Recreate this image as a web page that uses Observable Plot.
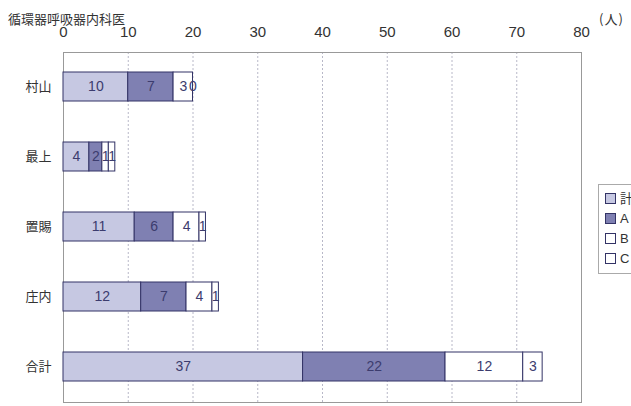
<!DOCTYPE html>
<html><head><meta charset="utf-8">
<script src="https://cdn.jsdelivr.net/npm/d3@7"></script>
<script src="https://cdn.jsdelivr.net/npm/@observablehq/plot@0.6"></script>
<style>
html,body{margin:0;padding:0;background:#fff;overflow:hidden;width:631px;height:406px;}
#wrap{position:relative;width:631px;height:406px;font-family:"Noto Sans CJK JP",sans-serif;}
#title{position:absolute;left:8px;top:9px;font-size:13px;color:#333;}
#unit{position:absolute;left:599px;top:9px;font-size:13px;color:#333;white-space:nowrap;letter-spacing:1px;}
#legend{position:absolute;left:598px;top:184px;border:1px solid #aaa;border-right:none;padding:4px 6px;font-size:13px;color:#333;line-height:20px;white-space:nowrap;font-family:"Liberation Sans","Noto Sans CJK JP",sans-serif;}
#legend span.sw{display:inline-block;width:9px;height:9px;border:1px solid #333366;margin-right:4px;vertical-align:-1px;}
#chart{position:absolute;left:0;top:0;}
</style></head>
<body><div id="wrap"><div id="chart"></div>
<div id="title">循環器呼吸器内科医</div>
<div id="unit">(人)</div>
<div id="legend"></div>
</div>
<script>
const regions = ["村山", "最上", "置賜", "庄内", "合計"];
const seriesNames = ["計", "A", "B", "C"];
const valuesKei = [10, 4, 11, 12, 37];
const valuesA = [7, 2, 6, 7, 22];
const valuesB = [3, 1, 4, 4, 12];
const valuesC = [0, 1, 1, 1, 3];
const xTicks = [0, 10, 20, 30, 40, 50, 60, 70, 80];
const colors = ["#c6c8e2", "#7f80b2", "#ffffff", "#ffffff"];

const seriesValues = [valuesKei, valuesA, valuesB, valuesC];
const data = [];
regions.forEach((r, i) => seriesNames.forEach((s, j) => data.push({region: r, series: s, value: seriesValues[j][i]})));

const chart = Plot.plot({
  width: 631, height: 406,
  marginLeft: 63, marginRight: 50, marginTop: 52, marginBottom: 4,
  style: {fontFamily: "'Noto Sans CJK JP', sans-serif", background: "transparent"},
  x: {domain: [0, 80], label: null},
  y: {domain: regions, paddingInner: 0.58, paddingOuter: 0.29, label: null},
  color: {domain: seriesNames, range: colors},
  marks: [
    Plot.gridX(xTicks, {stroke: "#b8b8c8", strokeOpacity: 1, strokeDasharray: "2,2"}),
    Plot.frame({stroke: "#999"}),
    Plot.barX(data, Plot.stackX({x: "value", y: "region", fill: "series", order: seriesNames, stroke: "#333366", strokeWidth: 1})),
    Plot.text(data, Plot.stackX({x: "value", y: "region", z: "series", order: seriesNames, text: d => String(d.value),
      fill: "#3c3c6e", fontSize: 14, fontFamily: "'Liberation Sans Narrow', 'Liberation Sans', sans-serif"})),
    Plot.axisX(xTicks, {anchor: "top", tickSize: 0, tickPadding: 16, fontSize: 15, label: null,
      fontFamily: "'Liberation Sans Narrow', 'Liberation Sans', sans-serif", fill: "#333"}),
    Plot.axisY({tickSize: 0, tickPadding: 12, fontSize: 13, label: null, fill: "#333"})
  ]
});
document.getElementById("chart").appendChild(chart);

const leg = document.getElementById("legend");
seriesNames.forEach((s, j) => {
  const row = document.createElement("div");
  const sw = document.createElement("span");
  sw.className = "sw"; sw.style.background = colors[j];
  row.appendChild(sw);
  row.appendChild(document.createTextNode(s));
  leg.appendChild(row);
});
</script></body></html>
